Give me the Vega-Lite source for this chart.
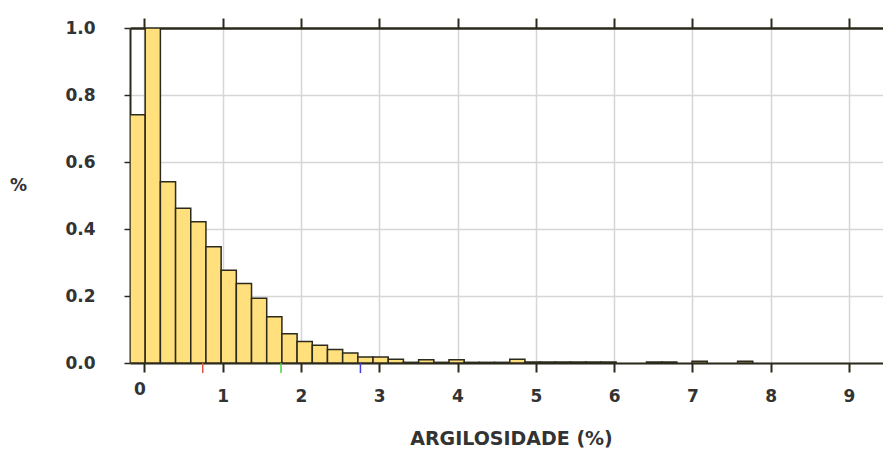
{
  "$schema": "https://vega.github.io/schema/vega-lite/v6.json",
  "width": 753,
  "height": 335,
  "autosize": {"type": "none"},
  "padding": {"left": 130, "top": 28, "right": 0, "bottom": 86},
  "background": "white",
  "config": {
    "view": {"stroke": null},
    "axis": {"labelFont": "DejaVu Sans", "titleFont": "DejaVu Sans", "labelColor": "#333333", "titleColor": "#333333"}
  },
  "datasets": {
    "bins": [
      {"x0": -0.183, "x1": 0.011, "v": 0.741},
      {"x0": 0.011, "x1": 0.205, "v": 1.0},
      {"x0": 0.205, "x1": 0.399, "v": 0.541},
      {"x0": 0.399, "x1": 0.593, "v": 0.462},
      {"x0": 0.593, "x1": 0.787, "v": 0.422},
      {"x0": 0.787, "x1": 0.981, "v": 0.347},
      {"x0": 0.981, "x1": 1.175, "v": 0.277},
      {"x0": 1.175, "x1": 1.369, "v": 0.237},
      {"x0": 1.369, "x1": 1.563, "v": 0.193},
      {"x0": 1.563, "x1": 1.757, "v": 0.138},
      {"x0": 1.757, "x1": 1.951, "v": 0.087},
      {"x0": 1.951, "x1": 2.145, "v": 0.064},
      {"x0": 2.145, "x1": 2.339, "v": 0.053},
      {"x0": 2.339, "x1": 2.533, "v": 0.040},
      {"x0": 2.533, "x1": 2.727, "v": 0.030},
      {"x0": 2.727, "x1": 2.921, "v": 0.018},
      {"x0": 2.921, "x1": 3.115, "v": 0.018},
      {"x0": 3.115, "x1": 3.309, "v": 0.011},
      {"x0": 3.309, "x1": 3.503, "v": 0.002},
      {"x0": 3.503, "x1": 3.697, "v": 0.010},
      {"x0": 3.697, "x1": 3.891, "v": 0.002},
      {"x0": 3.891, "x1": 4.085, "v": 0.010},
      {"x0": 4.085, "x1": 4.279, "v": 0.002},
      {"x0": 4.279, "x1": 4.473, "v": 0.002},
      {"x0": 4.473, "x1": 4.667, "v": 0.002},
      {"x0": 4.667, "x1": 4.861, "v": 0.011},
      {"x0": 4.861, "x1": 5.055, "v": 0.003},
      {"x0": 5.055, "x1": 5.249, "v": 0.003},
      {"x0": 5.249, "x1": 5.443, "v": 0.003},
      {"x0": 5.443, "x1": 5.637, "v": 0.003},
      {"x0": 5.637, "x1": 5.831, "v": 0.003},
      {"x0": 5.831, "x1": 6.025, "v": 0.003},
      {"x0": 6.413, "x1": 6.607, "v": 0.003},
      {"x0": 6.607, "x1": 6.801, "v": 0.003},
      {"x0": 6.995, "x1": 7.189, "v": 0.005},
      {"x0": 7.577, "x1": 7.771, "v": 0.005}
    ],
    "marks": [
      {"x": 0.746, "m": "m1"},
      {"x": 1.746, "m": "m2"},
      {"x": 2.76, "m": "m3"}
    ]
  },
  "layer": [
    {
      "data": {"name": "bins"},
      "mark": {"type": "bar", "fill": "#ffe07c", "stroke": "#2b2a1c", "strokeWidth": 1.5, "clip": true},
      "encoding": {
        "x": {
          "field": "x0", "type": "quantitative",
          "scale": {"domain": [-0.183, 9.434], "nice": false, "zero": false},
          "axis": {
            "orient": "bottom",
            "values": [0, 1, 2, 3, 4, 5, 6, 7, 8, 9],
            "format": "d",
            "grid": true, "gridColor": "#d6d6d6", "gridWidth": 1.5,
            "domainColor": "#2b2a1c", "domainWidth": 2,
            "tickColor": "#2b2a1c", "tickWidth": 2, "tickSize": 9,
            "labelFontSize": 17, "labelFontWeight": "bold",
            "labelPadding": {"condition": {"test": "datum.value === 0", "value": 9}, "value": 16},
            "labelOffset": {"condition": {"test": "datum.value === 0", "value": -5}, "value": 0},
            "labelFlush": false,
            "title": "ARGILOSIDADE (%)",
            "titleFontSize": 19, "titleFontWeight": "bold",
            "titleY": 81, "titleBaseline": "alphabetic", "titleX": 381
          }
        },
        "x2": {"field": "x1"},
        "y": {
          "field": "v", "type": "quantitative",
          "scale": {"domain": [0, 1], "nice": false},
          "axis": {
            "values": [0, 0.1, 0.2, 0.3, 0.4, 0.5, 0.6, 0.7, 0.8, 0.9, 1.0],
            "labelExpr": "round(datum.value * 10) % 2 == 0 ? format(datum.value, '.1f') : ''",
            "grid": true, "gridColor": "#d6d6d6", "gridWidth": 1.5,
            "domainColor": "#2b2a1c", "domainWidth": 2,
            "tickColor": "#2b2a1c", "tickWidth": 1.5, "tickSize": 6,
            "labelFontSize": 17, "labelFontWeight": "bold", "labelPadding": 29,
            "labelFlush": false,
            "title": "%", "titleAngle": 0, "titleFontSize": 17, "titleFontWeight": "bold",
            "titleX": -112, "titleY": 157, "titleAlign": "center", "titleBaseline": "middle"
          }
        },
        "y2": {"datum": 0}
      }
    },
    {
      "data": {"name": "marks"},
      "mark": {"type": "rule", "strokeWidth": 1.5},
      "encoding": {
        "x": {
          "field": "x", "type": "quantitative",
          "scale": {"domain": [-0.183, 9.434], "nice": false, "zero": false},
          "axis": {
            "orient": "top",
            "values": [0, 1, 2, 3, 4, 5, 6, 7, 8, 9],
            "grid": false, "labels": false, "title": null,
            "domainColor": "#2b2a1c", "domainWidth": 2.5,
            "tickColor": "#2b2a1c", "tickWidth": 2, "tickSize": 10
          }
        },
        "y": {"datum": -0.03, "scale": {"domain": [0, 1], "nice": false}},
        "y2": {"datum": 0},
        "color": {
          "field": "m", "type": "nominal",
          "scale": {"domain": ["m1", "m2", "m3"], "range": ["#e8503f", "#3fd83f", "#3f3fe0"]},
          "legend": null
        }
      }
    }
  ],
  "resolve": {"axis": {"x": "independent"}}
}
